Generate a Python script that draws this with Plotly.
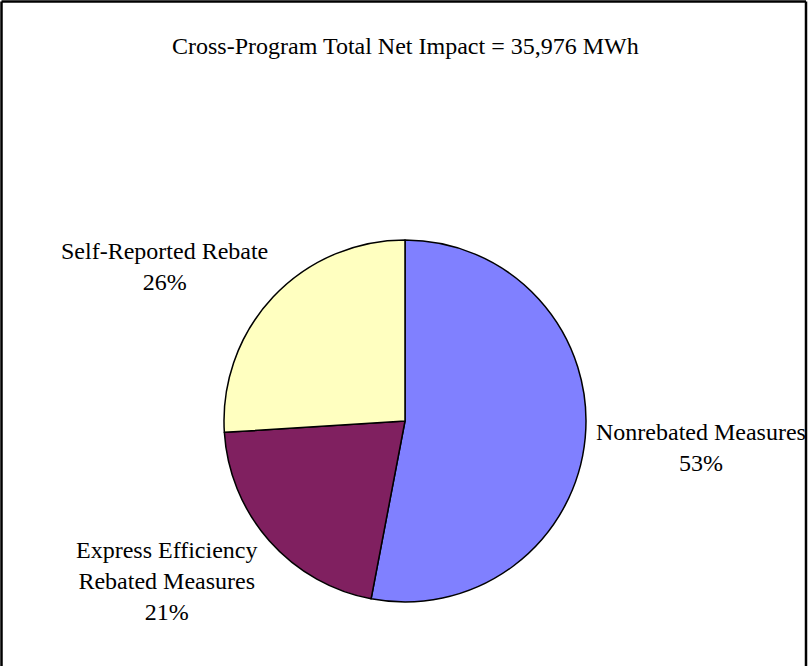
import plotly.graph_objects as go

# Net impact by category (MWh)
categories = ["Nonrebated Measures", "Express Efficiency<br>Rebated Measures", "Self-Reported Rebate"]
impact_mwh = [19067, 7555, 9354]
slice_colors = ["#8080FF", "#802060", "#FFFFC0"]

W, H = 808, 666
total = sum(impact_mwh)
shares = [v / total for v in impact_mwh]

FONT = "Liberation Serif, Times New Roman, serif"
FONT_SIZE = 24

def px_x(p):
    return p / W

def px_y(p):
    return 1 - p / H

# Pie placement (pixel centre and radius)
cx, cy, r = 405, 421, 181

fig = go.Figure(go.Pie(
    labels=categories,
    values=impact_mwh,
    sort=False,
    direction="clockwise",
    rotation=0,
    marker=dict(colors=slice_colors, line=dict(color="black", width=1.5)),
    textinfo="none",
    hoverinfo="label+value+percent",
    showlegend=False,
    domain=dict(x=[px_x(cx - r), px_x(cx + r)], y=[px_y(cy + r), px_y(cy - r)]),
))

# Outside category labels with percentages
label_pos = {
    "Nonrebated Measures": (701, 447),
    "Express Efficiency<br>Rebated Measures": (167, 581),
    "Self-Reported Rebate": (164, 266),
}
annotations = []
for cat, s in zip(categories, shares):
    x, y = label_pos[cat]
    annotations.append(dict(
        x=px_x(x), y=px_y(y), xref="paper", yref="paper",
        text=f"{cat}<br>{round(s * 100):.0f}%",
        showarrow=False, xanchor="center", yanchor="middle",
        font=dict(family=FONT, size=FONT_SIZE, color="black"),
    ))

annotations.append(dict(
    x=px_x(405), y=px_y(46), xref="paper", yref="paper",
    text=f"Cross-Program Total Net Impact = {total:,} MWh",
    showarrow=False, xanchor="center", yanchor="middle",
    font=dict(family=FONT, size=FONT_SIZE, color="black"),
))

# Frame around the chart area (left, top, right)
frame = [
    dict(type="line", xref="paper", yref="paper", x0=px_x(1.5), x1=px_x(1.5), y0=0, y1=px_y(1.5),
         line=dict(color="black", width=2.5)),
    dict(type="line", xref="paper", yref="paper", x0=px_x(1.5), x1=px_x(806), y0=px_y(1.5), y1=px_y(1.5),
         line=dict(color="black", width=2.5)),
    dict(type="line", xref="paper", yref="paper", x0=px_x(806), x1=px_x(806), y0=0, y1=px_y(1.5),
         line=dict(color="black", width=2.5)),
]

fig.update_layout(
    width=W, height=H,
    margin=dict(l=0, r=0, t=0, b=0),
    paper_bgcolor="white", plot_bgcolor="white",
    annotations=annotations,
    shapes=frame,
)

fig.write_html("out.html")
